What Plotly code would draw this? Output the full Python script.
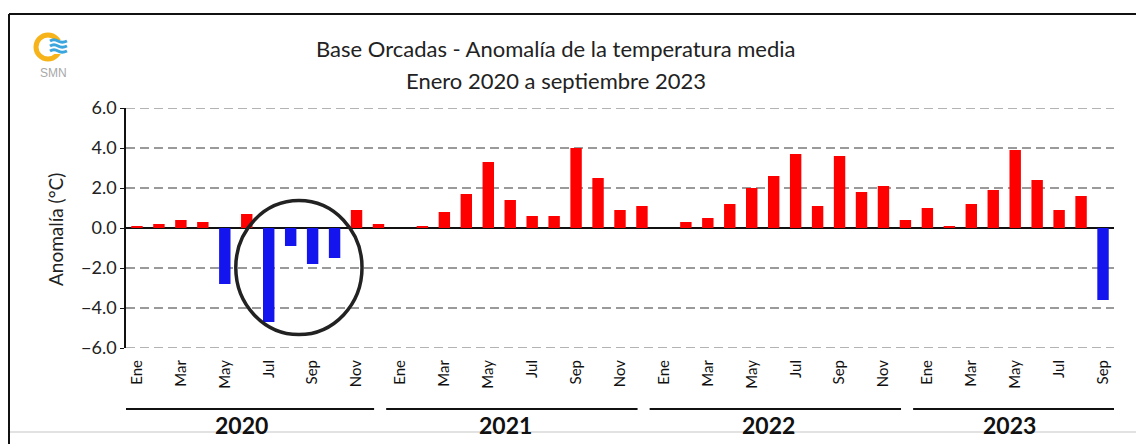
import plotly.graph_objects as go

# ---------------- data ----------------
years = ["2020", "2021", "2022", "2023"]
months_per_year = [12, 12, 12, 9]
month_names = ["Ene", "Feb", "Mar", "Abr", "May", "Jun", "Jul", "Ago", "Sep", "Oct", "Nov", "Dic"]

anom_2020 = [0.1, 0.2, 0.4, 0.3, -2.8, 0.7, -4.7, -0.9, -1.8, -1.5, 0.9, 0.2]
anom_2021 = [0.0, 0.1, 0.8, 1.7, 3.3, 1.4, 0.6, 0.6, 4.0, 2.5, 0.9, 1.1]
anom_2022 = [0.0, 0.3, 0.5, 1.2, 2.0, 2.6, 3.7, 1.1, 3.6, 1.8, 2.1, 0.4]
anom_2023 = [1.0, 0.1, 1.2, 1.9, 3.9, 2.4, 0.9, 1.6, -3.6]

y_ticks = [-6, -4, -2, 0, 2, 4, 6]

values = anom_2020 + anom_2021 + anom_2022 + anom_2023
idx = list(range(len(values)))
labels = [month_names[i % 12] for i in idx]

tick_vals = [i for i in idx if i % 2 == 0]
tick_text = [labels[i] for i in tick_vals]

RED = "#FF0000"
BLUE = "#1414EE"
colors = [RED if v >= 0 else BLUE for v in values]

FONT = "Lato"

# pixel geometry helpers (plot area: x 126..1114, y 108..348)
W, H = 1136, 444
L, R, T, B = 126, 22, 108, 96
PW, PH = W - L - R, H - T - B


def px(x):
    return (x - L) / PW


def py(y):
    return (H - B - y) / PH


fig = go.Figure()
fig.add_trace(go.Bar(
    x=idx, y=values, marker=dict(color=colors, line=dict(width=0)),
    customdata=labels, hovertemplate="%{customdata}: %{y:.1f}<extra></extra>",
))

shapes = []
annotations = []

# dashed gridlines at the range edges (plotly omits them there)
for yv in (min(y_ticks), max(y_ticks)):
    shapes.append(dict(type="line", xref="paper", yref="y", x0=0, x1=1, y0=yv, y1=yv,
                       line=dict(color="#9A9A9A", width=1.5, dash="9px,5px"), layer="below"))

# year group lines and labels
start = 0
for k, (yr, n) in enumerate(zip(years, months_per_year)):
    end = start + n - 1
    x0 = start - 0.65
    x1 = end - 0.2 if k < len(years) - 1 else end + 0.7
    shapes.append(dict(type="line", xref="x", yref="paper", x0=x0, x1=x1,
                       y0=py(409), y1=py(409), line=dict(color="#111111", width=2)))
    annotations.append(dict(xref="x", yref="paper", x=(x0 + x1) / 2 - 0.3, y=py(425),
                            text="<b>%s</b>" % yr, showarrow=False,
                            font=dict(family=FONT, size=23, color="#111111"),
                            xanchor="center", yanchor="middle"))
    start += n

# circle highlighting 2020 negative anomalies
shapes.append(dict(type="circle", xref="x", yref="y", x0=4.5, x1=10.25, y0=-5.33, y1=1.37,
                   line=dict(color="#222222", width=3.5), layer="above"))

# outer border (top, left) and bottom light line
shapes.append(dict(type="line", xref="paper", yref="paper", x0=px(9), x1=px(W), y0=py(14), y1=py(14),
                   line=dict(color="#111111", width=2)))
shapes.append(dict(type="line", xref="paper", yref="paper", x0=px(9), x1=px(9), y0=py(14), y1=py(H),
                   line=dict(color="#111111", width=2)))
shapes.append(dict(type="line", xref="paper", yref="paper", x0=px(10), x1=px(W), y0=py(432), y1=py(432),
                   line=dict(color="#D8D8D8", width=1.5)))

# SMN logo (approximation)
shapes.append(dict(type="circle", xref="paper", yref="paper", x0=px(36), x1=px(60), y0=py(35), y1=py(59),
                   line=dict(color="#F7B31A", width=5), layer="above"))
shapes.append(dict(type="rect", xref="paper", yref="paper", x0=px(50), x1=px(66), y0=py(40), y1=py(54),
                   fillcolor="white", line=dict(width=0), layer="above"))
for yy in (41, 46, 51):
    path = "M %f,%f Q %f,%f %f,%f T %f,%f" % (
        px(50), py(yy), px(54), py(yy - 2.5), px(58), py(yy), px(67), py(yy))
    shapes.append(dict(type="path", xref="paper", yref="paper", path=path,
                       line=dict(color="#3BA6DD", width=3), layer="above"))
annotations.append(dict(xref="paper", yref="paper", x=px(53), y=py(73), text="SMN", showarrow=False,
                        font=dict(family="Liberation Sans Narrow, Arial", size=12, color="#A8A8A8"),
                        xanchor="center", yanchor="middle"))

# titles
annotations.append(dict(xref="paper", yref="paper", x=px(556), y=py(48),
                        text="Base Orcadas - Anomalía de la temperatura media", showarrow=False,
                        font=dict(family=FONT, size=22, color="#222222"), xanchor="center", yanchor="middle"))
annotations.append(dict(xref="paper", yref="paper", x=px(556), y=py(80),
                        text="Enero 2020 a septiembre 2023", showarrow=False,
                        font=dict(family=FONT, size=22, color="#222222"), xanchor="center", yanchor="middle"))
annotations.append(dict(xref="paper", yref="paper", x=px(55), y=py(230),
                        text="Anomalía (°C)", showarrow=False, textangle=-90,
                        font=dict(family=FONT, size=19, color="#222222"), xanchor="center", yanchor="middle"))

fig.update_layout(
    width=W, height=H,
    margin=dict(l=L, r=R, t=T, b=B),
    paper_bgcolor="white", plot_bgcolor="white",
    showlegend=False, bargap=0.48,
    font=dict(family=FONT, color="#222222"),
    shapes=shapes, annotations=annotations,
    xaxis=dict(range=[-0.5, len(values) - 0.5], tickmode="array", tickvals=tick_vals, ticktext=tick_text,
               tickangle=-90, ticks="", ticklabelstandoff=8, showgrid=False, zeroline=False,
               showline=False, tickfont=dict(family=FONT, size=15, color="#111111")),
    yaxis=dict(range=[min(y_ticks), max(y_ticks)], tickmode="array", tickvals=y_ticks,
               tickformat=".1f", showgrid=True, gridcolor="#9A9A9A",
               griddash="9px,5px", gridwidth=1.5, zeroline=True, zerolinecolor="#111111", zerolinewidth=1.5,
               showline=True, linecolor="#111111", linewidth=1.5, ticks="outside", ticklen=4,
               tickcolor="#111111", tickfont=dict(family=FONT, size=18, color="#222222")),
)

fig.write_html("out.html", config={"displayModeBar": False},
               post_script="document.body.style.margin='0px';")
